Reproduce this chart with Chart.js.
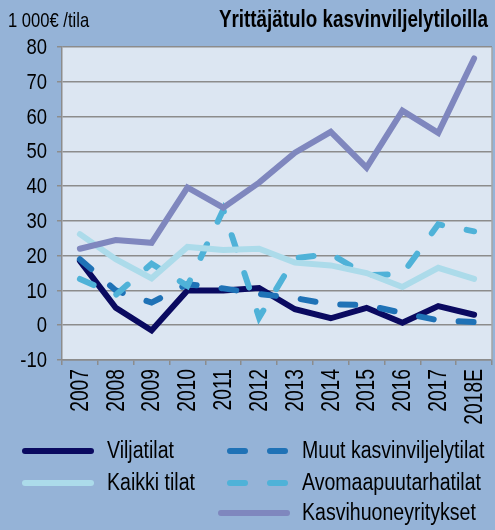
<!DOCTYPE html>
<html>
<head>
<meta charset="utf-8">
<script src="https://cdn.jsdelivr.net/npm/chart.js@4.4.1/dist/chart.umd.min.js"></script>
<style>
    html, body { margin: 0; padding: 0; background: #95b3d7; }
    #wrap { width: 495px; height: 530px; position: relative; }
</style>
</head>
<body>
<div id="wrap"><canvas id="incomeChart"></canvas></div>
<script>
const FONT = "'Liberation Sans', Arial, sans-serif";

const years = ["2007", "2008", "2009", "2010", "2011", "2012", "2013", "2014", "2015", "2016", "2017", "2018E"];
const yTicks = [-10, 0, 10, 20, 30, 40, 50, 60, 70, 80];

const viljatilat = [18.5, 5, -1.5, 10, 10, 10.7, 4.6, 2, 5, 0.7, 5.5, 3];
const kaikkiTilat = [26.2, 19, 13.5, 22.5, 21.6, 22, 18, 17.2, 15, 11, 16.5, 13.3];
const muutKasvinviljelytilat = [19, 10, 6.5, 11.8, 10.6, 9, 7.8, 6, 5.8, 3.5, 1.4, 0.9];
const avomaapuutarhatilat = [13.3, 8.7, 17.7, 11.3, 33.2, 2.2, 19.3, 20.5, 14.4, 14.7, 29, 27];
const kasvihuoneyritykset = [22, 24.5, 23.7, 39.6, 33.8, 41, 49.6, 55.6, 45.3, 61.7, 55.3, 76.7];

const unitText = "1 000€ /tila";
const titleText = "Yrittäjätulo kasvinviljelytiloilla";

const canvas = document.getElementById("incomeChart");

// the original uses a narrow font, so squeeze the text horizontally
function narrowText(ctx, text, x, y, font, squeeze, align) {
    ctx.save();
    ctx.translate(x, y);
    ctx.scale(squeeze, 1);
    ctx.font = font;
    ctx.textAlign = align;
    ctx.fillText(text, 0, 0);
    ctx.restore();
}

const backgroundPlugin = {
    id: "backgroundPlugin",
    beforeDraw(chart) {
        const ctx = chart.ctx;
        const area = chart.chartArea;
        ctx.save();
        ctx.fillStyle = "#95b3d7";
        ctx.fillRect(0, 0, chart.width, chart.height);
        ctx.fillStyle = "#dce6f2";
        ctx.fillRect(area.left, area.top, area.right - area.left, area.bottom - area.top);
        ctx.restore();
    },
    afterDraw(chart) {
        const ctx = chart.ctx;
        const area = chart.chartArea;
        ctx.save();
        ctx.strokeStyle = "#a6a6a6";
        ctx.lineWidth = 1.5;
        ctx.beginPath();
        ctx.moveTo(area.right, area.top);
        ctx.lineTo(area.right, area.bottom);
        ctx.stroke();

        ctx.fillStyle = "#000";
        ctx.textBaseline = "alphabetic";
        narrowText(ctx, unitText, 8, 27, "21px " + FONT, 0.79, "left");
        narrowText(ctx, titleText, 488, 27, "bold 24px " + FONT, 0.785, "right");
        ctx.restore();
    }
};

// tick labels, placed by the chart's own scales
const tickLabelPlugin = {
    id: "tickLabelPlugin",
    afterDraw(chart) {
        const ctx = chart.ctx;
        const xScale = chart.scales.x;
        const yScale = chart.scales.y;
        ctx.save();
        ctx.fillStyle = "#000";
        ctx.textBaseline = "middle";
        yScale.ticks.forEach(t => {
            narrowText(ctx, String(t.value), xScale.left - 15, yScale.getPixelForValue(t.value) + 1,
                "22px " + FONT, 0.84, "right");
        });
        years.forEach((label, i) => {
            const x = xScale.getPixelForTick(i);
            ctx.save();
            ctx.translate(x + 1, yScale.bottom + 9);
            ctx.rotate(-Math.PI / 2);
            narrowText(ctx, label, 0, 0, "25px " + FONT, 0.77, "right");
            ctx.restore();
        });
        ctx.restore();
    }
};

// legend in two columns, like the original
const legendPlugin = {
    id: "legendPlugin",
    afterDraw(chart) {
        const ctx = chart.ctx;
        const columns = [
            { solid: [25, 91], dashed: [25, 91], textX: 107 },
            { solid: [221, 287], dashed: [230, 285], textX: 302 }
        ];
        const lineRows = [451, 483, 513];
        const textRows = [458, 490, 520];
        ctx.save();
        chart.data.datasets.forEach(ds => {
            const col = columns[ds.legendCol];
            const y = lineRows[ds.legendRow];
            const span = ds.borderDash ? col.dashed : col.solid;
            ctx.strokeStyle = ds.borderColor;
            ctx.lineWidth = ds.borderWidth;
            ctx.lineCap = "round";
            ctx.setLineDash(ds.borderDash || []);
            ctx.beginPath();
            ctx.moveTo(span[0], y);
            ctx.lineTo(span[1], y);
            ctx.stroke();
            ctx.setLineDash([]);
            ctx.fillStyle = "#000";
            ctx.textBaseline = "alphabetic";
            narrowText(ctx, ds.label, col.textX, textRows[ds.legendRow], "23px " + FONT, 0.85, "left");
        });
        ctx.restore();
    }
};

const lineStyle = {
    borderWidth: 6,
    pointRadius: 0,
    tension: 0,
    borderCapStyle: "round",
    fill: false,
};

new Chart(canvas, {
    type: "line",
    data: {
        labels: years,
        datasets: [
            { ...lineStyle, label: "Kasvihuoneyritykset", data: kasvihuoneyritykset, borderColor: "#7f87be", legendCol: 1, legendRow: 2 },
            { ...lineStyle, label: "Kaikki tilat", data: kaikkiTilat, borderColor: "#acdbea", legendCol: 0, legendRow: 1 },
            { ...lineStyle, label: "Avomaapuutarhatilat", data: avomaapuutarhatilat, borderColor: "#4fb2d8", borderDash: [15, 25], legendCol: 1, legendRow: 1 },
            { ...lineStyle, label: "Muut kasvinviljelytilat", data: muutKasvinviljelytilat, borderColor: "#1f72b6", borderDash: [15, 25], legendCol: 1, legendRow: 0 },
            { ...lineStyle, label: "Viljatilat", data: viljatilat, borderColor: "#0a0a60", legendCol: 0, legendRow: 0 },
        ],
    },
    options: {
        responsive: true,
        maintainAspectRatio: false,
        animation: false,
        layout: {
            padding: { top: 47, right: 3, bottom: 110, left: 0 },
        },
        plugins: {
            legend: { display: false },
            title: { display: false },
            tooltip: { enabled: false },
        },
        scales: {
            x: {
                offset: true,
                grid: {
                    offset: true,
                    drawOnChartArea: false,
                    drawTicks: true,
                    tickLength: 5,
                    color: "#8c8c8c",
                    lineWidth: 1.5,
                },
                border: { color: "#8c8c8c", width: 1.5 },
                ticks: { display: false, autoSkip: false },
                afterFit(scale) {
                    scale.height = 60;
                },
            },
            y: {
                min: -10,
                max: 80,
                afterBuildTicks(scale) {
                    scale.ticks = yTicks.map(v => ({ value: v }));
                },
                grid: {
                    color: "#8c8c8c",
                    lineWidth: 1.5,
                    drawTicks: true,
                    tickLength: 5,
                },
                border: { color: "#8c8c8c", width: 1.5 },
                ticks: { display: false },
                afterFit(scale) {
                    scale.width = 62;
                },
            },
        },
    },
    plugins: [backgroundPlugin, tickLabelPlugin, legendPlugin],
});
</script>
</body>
</html>
